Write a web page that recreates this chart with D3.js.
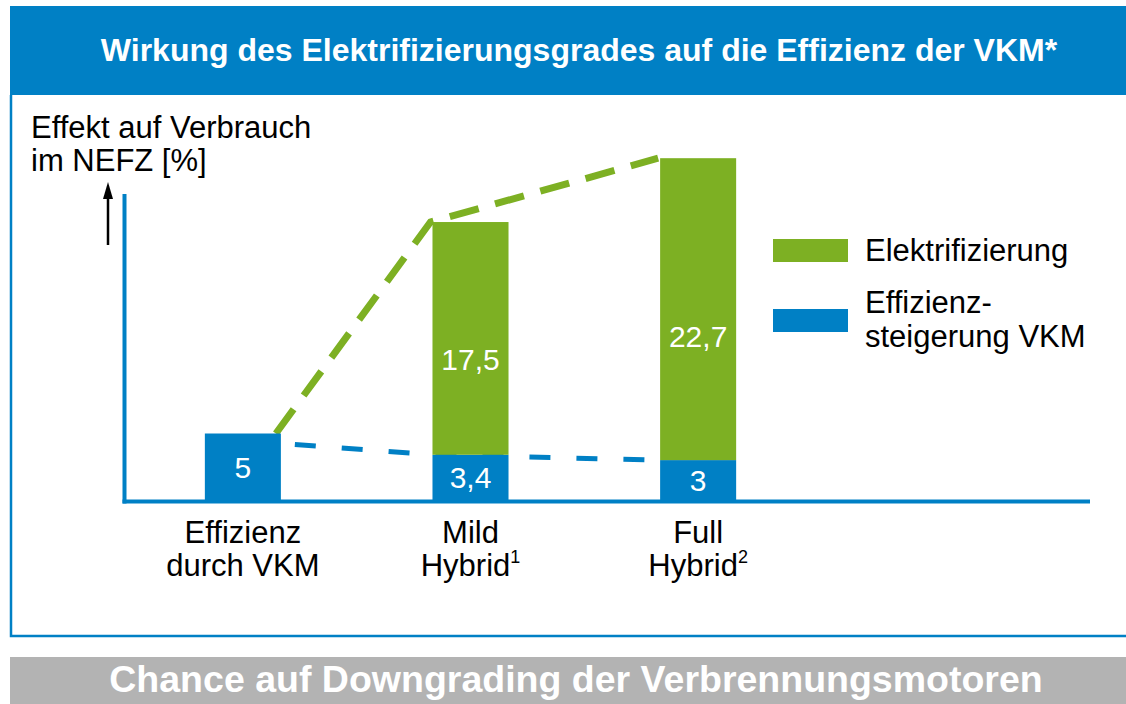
<!DOCTYPE html>
<html>
<head>
<meta charset="utf-8">
<script src="https://cdn.jsdelivr.net/npm/d3@7"></script>
<style>
  body { margin: 0; background: #fff; }
  svg { display: block; font-family: 'Liberation Sans', Arial, sans-serif; }
</style>
</head>
<body>
<div id="chart"></div>
<script>
  // chart data
  const categories = ['Effizienz durch VKM', 'Mild Hybrid', 'Full Hybrid'];
  const categoryLines = [['Effizienz', 'durch VKM'], ['Mild', 'Hybrid'], ['Full', 'Hybrid']];
  const footnotes = ['', '1', '2'];
  const effizienzValues = [5, 3.4, 3];
  const elektroValues = [0, 17.5, 22.7];
  const seriesNames = ['Elektrifizierung', 'Effizienz-|steigerung VKM'];
  const titleText = 'Wirkung des Elektrifizierungsgrades auf die Effizienz der VKM*';
  const footerText = 'Chance auf Downgrading der Verbrennungsmotoren';
  const yLabel = ['Effekt auf Verbrauch', 'im NEFZ [%]'];

  const width = 1126;
  const height = 704;
  const blue = '#0080c5';
  const green = '#7db023';
  const gray = '#b3b3b3';
  const baseline = 500;

  const svg = d3.select('#chart')
    .append('svg')
    .attr('width', width)
    .attr('height', height);

  // header bar
  svg.append('rect')
    .attr('x', 10).attr('y', 6)
    .attr('width', width - 10).attr('height', 89)
    .attr('fill', blue);

  svg.append('text')
    .attr('x', 579).attr('y', 61)
    .attr('text-anchor', 'middle')
    .style('font-size', '32px')
    .style('font-weight', 'bold')
    .style('fill', '#fff')
    .text(titleText);

  // frame around chart area
  svg.append('path')
    .attr('d', `M11,95 V636 H${width}`)
    .attr('fill', 'none')
    .attr('stroke', blue)
    .attr('stroke-width', 2.5);

  // footer bar
  svg.append('rect')
    .attr('x', 10).attr('y', 657)
    .attr('width', width - 10).attr('height', height - 657)
    .attr('fill', gray);

  svg.append('text')
    .attr('x', 576).attr('y', 692)
    .attr('text-anchor', 'middle')
    .style('font-size', '37.5px')
    .style('font-weight', 'bold')
    .style('fill', '#fff')
    .text(footerText);

  // scales
  const x = d3.scaleBand()
    .domain(categories)
    .range([127, 814])
    .paddingInner(0.666)
    .paddingOuter(0.342);

  const y = d3.scaleLinear()
    .domain([0, 30])
    .range([baseline, baseline - 30 * 13.3]);

  // axis label + arrow
  svg.append('text')
    .attr('x', 31).attr('y', 138)
    .style('font-size', '31px')
    .style('fill', '#000')
    .selectAll('tspan')
    .data(yLabel)
    .enter()
    .append('tspan')
    .attr('x', 31)
    .attr('dy', (d, i) => i === 0 ? 0 : 33)
    .text(d => d);

  svg.append('line')
    .attr('x1', 108).attr('x2', 108)
    .attr('y1', 245).attr('y2', 195)
    .attr('stroke', '#000')
    .attr('stroke-width', 2.5);

  svg.append('path')
    .attr('d', 'M108,182 L103,199 L113,199 Z')
    .attr('fill', '#000');

  // axes
  svg.append('line')
    .attr('x1', 124.5).attr('x2', 124.5)
    .attr('y1', 194).attr('y2', baseline + 3.5)
    .attr('stroke', blue)
    .attr('stroke-width', 4);

  svg.append('line')
    .attr('x1', 122.5).attr('x2', 1090)
    .attr('y1', baseline + 1.5).attr('y2', baseline + 1.5)
    .attr('stroke', blue)
    .attr('stroke-width', 4);

  // dashed connecting lines (drawn behind the bars)
  const totals = categories.map((c, i) => effizienzValues[i] + elektroValues[i]);
  const edgeX = i => i === 0 ? x(categories[i]) + x.bandwidth() - 5 : x(categories[i]) - 2;

  const greenLine = d3.line()
    .x((d, i) => edgeX(i))
    .y(d => y(d))
    .curve(d3.curveLinear);

  svg.append('path')
    .attr('d', greenLine(totals))
    .attr('fill', 'none')
    .attr('stroke', green)
    .attr('stroke-width', 7)
    .attr('stroke-dasharray', '30,17');

  const blueLine = d3.line()
    .x((d, i) => i === 0 ? x(categories[i]) + x.bandwidth() : x(categories[i]))
    .y((d, i) => i === 0 ? y(d) + 10 : y(d))
    .curve(d3.curveLinear);

  svg.append('path')
    .attr('d', blueLine(effizienzValues))
    .attr('fill', 'none')
    .attr('stroke', blue)
    .attr('stroke-width', 5)
    .attr('stroke-dasharray', '0,14,21,12');

  // bars
  const fmt = v => String(v).replace('.', ',');

  const groups = svg.selectAll('.bar')
    .data(categories)
    .enter()
    .append('g')
    .attr('class', 'bar');

  groups.append('rect')
    .attr('x', d => x(d))
    .attr('width', x.bandwidth())
    .attr('y', (d, i) => y(effizienzValues[i]))
    .attr('height', (d, i) => baseline - y(effizienzValues[i]))
    .attr('fill', blue);

  groups.filter((d, i) => elektroValues[i] > 0)
    .append('rect')
    .attr('x', d => x(d))
    .attr('width', x.bandwidth())
    .attr('y', d => y(totals[categories.indexOf(d)]))
    .attr('height', d => {
      const i = categories.indexOf(d);
      return y(effizienzValues[i]) - y(totals[i]);
    })
    .attr('fill', green);

  groups.append('text')
    .attr('x', d => x(d) + x.bandwidth() / 2)
    .attr('y', (d, i) => (y(effizienzValues[i]) + baseline) / 2 + 11)
    .attr('text-anchor', 'middle')
    .style('font-size', '30px')
    .style('fill', '#fff')
    .text((d, i) => fmt(effizienzValues[i]));

  groups.filter((d, i) => elektroValues[i] > 0)
    .append('text')
    .attr('x', d => x(d) + x.bandwidth() / 2)
    .attr('y', d => {
      const i = categories.indexOf(d);
      return y(totals[i]) + 0.59 * (y(effizienzValues[i]) - y(totals[i])) + 11;
    })
    .attr('text-anchor', 'middle')
    .style('font-size', '30px')
    .style('fill', '#fff')
    .text(d => fmt(elektroValues[categories.indexOf(d)]));

  // category labels
  groups.each(function(d, i) {
    const t = d3.select(this).append('text')
      .attr('text-anchor', 'middle')
      .style('font-size', '31px')
      .style('fill', '#000');
    const cx = x(d) + x.bandwidth() / 2;
    t.append('tspan').attr('x', cx).attr('y', 543).text(categoryLines[i][0]);
    t.append('tspan').attr('x', cx).attr('y', 576).text(categoryLines[i][1]);
    if (footnotes[i]) {
      t.append('tspan')
        .attr('dy', -13)
        .style('font-size', '18px')
        .text(footnotes[i]);
    }
  });

  // legend
  const legend = svg.append('g')
    .attr('transform', 'translate(773, 239)');

  const legendItems = legend.selectAll('.legend-item')
    .data(seriesNames)
    .enter()
    .append('g')
    .attr('class', 'legend-item')
    .attr('transform', (d, i) => `translate(0, ${i * 70})`);

  legendItems.append('rect')
    .attr('width', 75)
    .attr('height', 23)
    .attr('fill', (d, i) => i === 0 ? green : blue);

  legendItems.append('text')
    .style('font-size', '31px')
    .style('fill', '#000')
    .each(function(d, i) {
      const lines = d.split('|');
      const t = d3.select(this);
      lines.forEach((line, j) => {
        t.append('tspan')
          .attr('x', 92)
          .attr('y', (lines.length === 1 ? 22 : 4) + j * 34)
          .text(line);
      });
    });
</script>
</body>
</html>
